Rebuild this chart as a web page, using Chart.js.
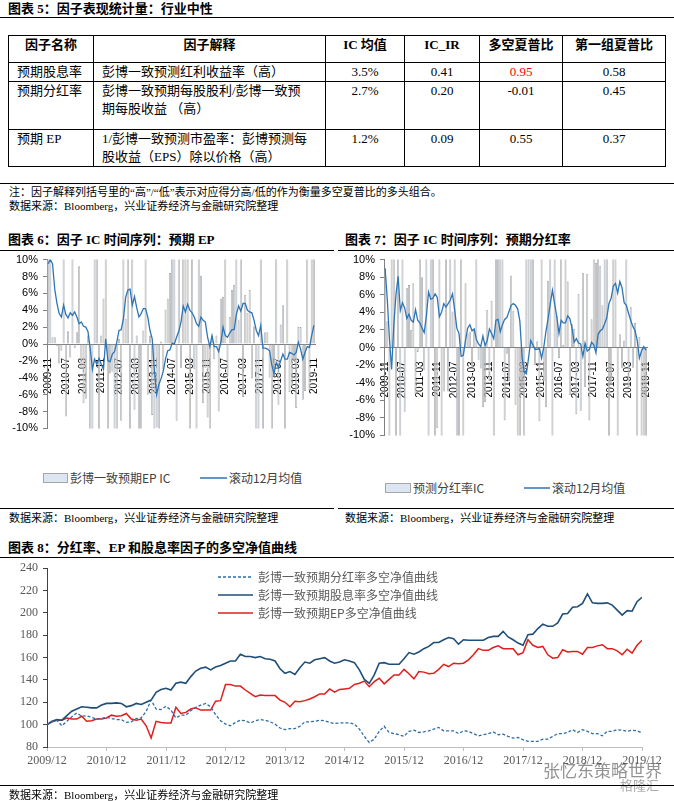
<!DOCTYPE html>
<html><head><meta charset="utf-8">
<script src="https://cdn.jsdelivr.net/npm/chart.js@4.4.1/dist/chart.umd.min.js"></script>
<style>
body{margin:0;background:#fff;}
#page{position:relative;width:674px;height:801px;overflow:hidden;font-family:"Liberation Serif","Noto Sans CJK SC",serif;color:#000;background:#fff;}
.abs{position:absolute;white-space:nowrap;}
.title{font-weight:bold;font-size:13px;line-height:16px;}
.hr{position:absolute;height:0;border-top:1.3px solid #000;}
.note{font-size:11px;line-height:14px;}
table{position:absolute;left:8px;top:35px;border-collapse:collapse;table-layout:fixed;font-size:13px;}
td,th{border:1px solid #000;padding:0 8px;vertical-align:top;line-height:18px;white-space:nowrap;overflow:visible;}
th{font-weight:bold;text-align:center;}
td.c{text-align:center;}
.leg{font-family:"Noto Sans CJK SC","Liberation Sans",sans-serif;font-size:12px;line-height:14px;color:#404040;}
.leg8{font-family:"Noto Sans CJK SC","Liberation Sans",sans-serif;font-size:12px;line-height:14px;color:#595959;}
canvas{position:absolute;}
</style></head>
<body><div id="page">

<div class="abs title" style="left:8px;top:1px;">图表 5：因子表现统计量：行业中性</div>
<div class="hr" style="left:0;top:17px;width:674px;"></div>

<table>
<colgroup><col style="width:85px"><col style="width:232px"><col style="width:79px"><col style="width:75px"><col style="width:83px"><col style="width:103px"></colgroup>
<tr style="height:27px"><th>因子名称</th><th>因子解释</th><th>IC 均值</th><th>IC_IR</th><th>多空夏普比</th><th>第一组夏普比</th></tr>
<tr style="height:18px"><td>预期股息率</td><td>彭博一致预测红利收益率（高）</td><td class="c">3.5%</td><td class="c">0.41</td><td class="c" style="color:#ff0000">0.95</td><td class="c">0.58</td></tr>
<tr style="height:48px"><td>预期分红率</td><td>彭博一致预期每股股利/彭博一致预<br>期每股收益 （高）</td><td class="c">2.7%</td><td class="c">0.20</td><td class="c">-0.01</td><td class="c">0.45</td></tr>
<tr style="height:36px"><td>预期 EP</td><td>1/彭博一致预测市盈率：彭博预测每<br>股收益（EPS）除以价格（高）</td><td class="c">1.2%</td><td class="c">0.09</td><td class="c">0.55</td><td class="c">0.37</td></tr>
</table>

<div class="hr" style="left:0;top:183px;width:674px;"></div>
<div class="abs note" style="left:9px;top:185px;">注：因子解释列括号里的“高”/“低”表示对应得分高/低的作为衡量多空夏普比的多头组合。</div>
<div class="abs note" style="left:9px;top:199px;">数据来源：Bloomberg，兴业证券经济与金融研究院整理</div>

<div class="abs title" style="left:8px;top:232px;">图表 6：因子 IC 时间序列：预期 EP</div>
<div class="hr" style="left:0;top:250px;width:334px;"></div>
<div class="abs title" style="left:345px;top:232px;">图表 7：因子 IC 时间序列：预期分红率</div>
<div class="hr" style="left:338px;top:250px;width:336px;"></div>

<canvas id="c6" width="335" height="192" style="left:0;top:248px;width:335px;height:192px;"></canvas>
<canvas id="c7" width="337" height="199" style="left:337px;top:248px;width:337px;height:199px;"></canvas>

<svg class="abs" style="left:0;top:460px;" width="674" height="40">
  <rect x="43.5" y="13.5" width="24" height="9" fill="#dce6f2" stroke="#a6a6a6" stroke-width="1"/>
  <line x1="200" y1="18" x2="227" y2="18" stroke="#2e75b6" stroke-width="1.5"/>
  <rect x="385.5" y="23.5" width="25" height="9" fill="#dce6f2" stroke="#a6a6a6" stroke-width="1"/>
  <line x1="524" y1="28" x2="550" y2="28" stroke="#2e75b6" stroke-width="1.5"/>
</svg>
<div class="abs leg" style="left:70px;top:471px;">彭博一致预期EP IC</div>
<div class="abs leg" style="left:229px;top:471px;">滚动12月均值</div>
<div class="abs leg" style="left:413px;top:481px;">预测分红率IC</div>
<div class="abs leg" style="left:552px;top:481px;">滚动12月均值</div>

<div class="hr" style="left:0;top:508px;width:334px;"></div>
<div class="hr" style="left:338px;top:508px;width:336px;"></div>
<div class="abs note" style="left:9px;top:511px;">数据来源：Bloomberg，兴业证券经济与金融研究院整理</div>
<div class="abs note" style="left:345px;top:511px;">数据来源：Bloomberg，兴业证券经济与金融研究院整理</div>

<div class="abs title" style="left:8px;top:540px;">图表 8：分红率、EP 和股息率因子的多空净值曲线</div>
<div class="hr" style="left:0;top:557px;width:674px;"></div>

<canvas id="c8" width="674" height="217" style="left:0;top:556px;width:674px;height:217px;"></canvas>

<svg class="abs" style="left:0;top:568px;" width="674" height="60">
  <line x1="218" y1="9" x2="253" y2="9" stroke="#2e6da4" stroke-width="1.3" stroke-dasharray="3,2"/>
  <line x1="218" y1="27" x2="253" y2="27" stroke="#1f4e79" stroke-width="1.6"/>
  <line x1="218" y1="45" x2="253" y2="45" stroke="#e01e1e" stroke-width="1.5"/>
</svg>
<div class="abs leg8" style="left:258px;top:570px;">彭博一致预期分红率多空净值曲线</div>
<div class="abs leg8" style="left:258px;top:588px;">彭博一致预期股息率多空净值曲线</div>
<div class="abs leg8" style="left:258px;top:606px;">彭博一致预期EP多空净值曲线</div>

<div class="abs" style="left:543px;top:760px;font-family:'Noto Sans CJK SC',sans-serif;font-size:17px;line-height:20px;color:rgba(110,110,110,0.75);">张忆东策略世界</div>
<div class="abs" style="left:620px;top:777px;font-family:'Noto Sans CJK SC',sans-serif;font-size:13px;line-height:16px;color:rgba(150,150,150,0.8);">格隆汇</div>

<div class="hr" style="left:0;top:785px;width:674px;"></div>
<div class="abs note" style="left:9px;top:788px;">数据来源：Bloomberg，兴业证券经济与金融研究院整理</div>

</div>
<script>
// ---------- data ----------
const icTickLabels = ['2009-11','2010-07','2011-03','2011-11','2012-07','2013-03','2013-11','2014-07','2015-03','2015-11','2016-07','2017-03','2017-11','2018-07','2019-03','2019-11'];

const epIC = [12,12,0.8,0.8,-0.2,-2.3,-0.8,12,-8.6,1.5,
  -1.6,12,-0.5,1.4,9.2,-2.7,-7.0,-6.5,1.0,-12,
  -12,12,12,-12,1.0,5.4,12,-12,-3.5,-3.3,
  -12,-12,0.6,-9.1,12,3.0,12,-12,12,-7.8,
  1.0,-12,-12,1.6,12,-6.0,1.0,-8.4,-12,-9.9,
  -12,0.3,-3.0,4.1,5.4,8.4,12,12,-9.1,12,
  -2.8,12,12,12,-12,12,-3.0,-12,12,8.1,
  -7.0,-2.8,-8.7,-12,1.0,-1.8,1.0,-8.0,5.4,5.6,
  12,-3.8,3.2,6.4,7.0,12,2.8,12,-6.3,5.8,
  3.7,6.4,-4.1,2.1,-12,-12,12,-12,1.4,1.4,
  -4.0,-12,-3.8,12,-7.2,2.3,4.6,-12,12,-5.7,
  -5.0,-2.0,-7.6,2.0,2.0,-6.6,-5.6,12,-5.5,12,
  12];
const epMA = [9.5,10,9.5,6.5,4.8,3.6,3.2,4.6,3.5,3.1,
  3.7,3.4,3.8,3.2,2.4,2.6,2.1,2.0,1.5,-0.5,
  -3.0,-1.8,-2.4,-1.7,-2.4,-3.0,0.6,-2.0,-2.1,-1.2,
  -0.9,0.2,1.6,1.7,3.0,5.5,6.4,6.5,4.6,5.6,
  4.3,3.2,3.6,4.2,4.2,3.2,1.6,0.6,-3.2,-6.0,
  -4.8,-4.1,-3.2,-1.8,-0.8,-0.7,0.1,0.0,0.8,1.5,
  2.6,4.5,3.8,4.7,4.0,3.7,3.2,2.4,2.1,3.2,
  2.8,2.6,0.8,-0.3,1.0,-0.3,-0.3,-0.9,0.2,2.0,
  1.0,0.8,1.3,1.7,1.7,3.5,4.5,3.9,4.8,4.8,
  4.0,3.8,3.7,2.8,1.6,1.0,2.2,-0.5,-0.5,-0.6,
  -0.8,-2.5,-3.5,-2.2,-2.8,-2.0,-1.2,-1.8,-1.8,-1.0,
  -1.1,-1.3,-1.0,0.2,-0.6,-1.8,-1.0,-0.3,-0.4,1.0,
  2.2];

const divIC = [9.0,3.0,-12,12,12,-12,12,-12,12,-7.3,
  6.8,7.1,2.0,7.3,-5.3,-0.5,12,8.0,-2.6,12,
  -12,12,12,-12,-9.2,12,-12,-5.0,12,-5.0,
  12,4.1,12,-12,-12,12,-12,7.3,1.6,1.8,
  -2.2,2.0,12,-1.4,-2.4,-6.8,-6.2,4.3,-3.8,5.3,
  -12,12,12,12,12,-8.3,-0.7,-3.8,8.2,4.2,
  -6.5,-12,-12,-4.5,-12,12,12,12,12,-2.0,
  0.7,-8.4,12,-3.8,-6.8,7.6,12,-12,12,3.6,
  -1.2,12,0.3,12,7.5,-5.4,2.7,2.1,-7.6,6.1,
  -7.2,8.5,-4.5,8.4,-8.3,3.2,12,9.6,12,9.3,
  4.8,12,12,-12,-4.2,12,12,-12,1.5,-2.3,
  0.8,12,-4.5,4.6,-2.3,2.8,-12,1.2,-12,-12,
  -12];
const divMA = [9.0,5.5,1.0,-2.5,2.5,6.0,8.1,4.2,5.1,4.5,
  3.3,3.8,3.1,2.9,4.3,3.1,2.8,2.2,1.7,3.6,
  6.3,5.5,5.6,6.1,5.7,3.5,4.0,5.0,4.6,5.0,
  5.4,6.1,4.3,2.2,1.6,-1.0,-0.9,0.8,2.2,2.6,
  1.9,2.1,0.9,0.4,0.1,1.3,0.2,0.8,2.1,1.6,
  1.0,3.1,3.2,1.8,2.6,3.2,3.4,4.1,4.8,5.0,
  4.8,4.4,3.0,-1.0,-2.8,-3.0,-1.2,0.8,0.3,-0.2,
  -0.2,-0.1,-1.2,0.0,1.8,3.3,5.0,6.5,5.0,3.5,
  1.6,3.1,2.8,2.8,3.6,3.3,2.2,0.6,1.0,0.5,
  0.4,-1.0,0.5,-0.4,-0.2,0.6,0.3,-0.6,1.5,1.9,
  2.1,2.7,3.4,5.0,5.6,7.0,7.3,6.2,7.5,6.8,
  5.1,4.8,3.9,3.1,2.4,1.9,0.8,-1.2,-0.4,0.1,
  -0.3];

const netTickLabels = ['2009/12','2010/12','2011/12','2012/12','2013/12','2014/12','2015/12','2016/12','2017/12','2018/12','2019/12'];

const divNet = [100,102.5,104,99,103,107,110.5,107.5,108,106.5,105,105.5,106.5,
  105.5,104.5,104.5,102,102.5,105.5,106,112,122,114,113.5,116.5,
  113,106,108.5,108.5,112.5,115.5,117.5,119,116,109,103.5,100.5,
  99,102,104,103.5,101.5,103.5,104.5,104,102.5,100.5,97,95.5,
  96.5,96.5,98.5,102.5,102.5,103,104,103.5,102,101,101.5,101.5,
  101.5,100.5,96,89.5,84,87,94,98.5,93,92,91,89.5,
  94,95,93,93.5,94.5,96,97.5,94.5,94.5,94.5,92,94.5,
  94,92,90,91,92,93.5,91,91.5,89.5,88,88.5,86.5,
  85,85,85,87,87,89.5,92,92,93,95.5,93,95.5,
  94,92,92,90,94,94,95.5,95,94,95,94.5,92.5];
const yieldNet = [100,103,104.5,104,108,112,114,116,115.5,115,115,117.5,119,
  119,119.5,119,116,117,119,118,120,122,129,131.5,132.5,
  131,137,138,137,143,148,150.5,151.5,149,151.5,153,155,
  157,157,163,161,161,160,161,159,158.5,157,150,146,
  147.5,145,151,156,155,158,159,160,157,155,156,158,
  157,155.5,149,140.5,137,144.5,155,155.5,154,154,154,159,
  164.5,163,165,168,170,173.5,173.5,176,178,177,172,176,
  175.5,175.5,175.5,175.5,178,179,179,183.5,178.5,176,173,171,
  180.5,181,186,190,188,188,191,199,199.5,205,205.5,208.5,
  217,209,208.5,208.5,209,207,202.5,198,202,201.5,210,214];
const epNet = [100,102.5,104,104,106,105,105,107.5,103,103.5,105,105,106,
  108.5,107.5,108,110,105,104,105,99,88,103,102,101.5,
  101.5,115.5,110,111,114,115,113,113,113,121,121.5,136,
  136,134.5,134.5,131,128,125,126.5,126,126,126,122,120,
  116,121,120.5,121.5,123,125,127.5,127.5,132,129,131.5,132,
  132.5,136,137,139,134,138.5,141.5,136.5,140.5,144.5,144.5,149.5,
  145.5,141,147.5,147,145.5,146,149.5,154,152,155,154.5,155,
  158,162.5,168,166.5,166.5,169,170.5,168,168,168,162.5,164.5,
  176,171,169,170,162.5,159.5,160,167,165,165.5,165.5,163,
  169,169,170.5,171.5,168,168,166,162.5,167.5,164,171,175.5];

// ---------- helpers ----------
const icMonths = [];
for (let k = 0; k < epIC.length; k++) {
  const mm = 10 + k;
  const y = 2009 + Math.floor(mm / 12);
  const m = (mm % 12) + 1;
  icMonths.push(y + '-' + String(m).padStart(2, '0'));
}
const toXY = arr => arr.map((v, i) => ({x: i, y: v}));

Chart.defaults.animation = false;
Chart.defaults.events = [];

function icChart(id, bars, line, barLabel, padRight) {
  new Chart(document.getElementById(id), {
    type: 'bar',
    data: {
      labels: icMonths,
      datasets: [
        {type: 'line', label: '滚动12月均值', data: line, borderColor: '#2e75b6', borderWidth: 1.3,
         pointRadius: 0, tension: 0, order: 0, clip: 0},
        {type: 'bar', label: barLabel, data: bars, backgroundColor: '#dce6f2', borderColor: '#a6a6a6',
         borderWidth: 0.8, categoryPercentage: 1, barPercentage: 0.9, order: 1, clip: 0}
      ]
    },
    options: {
      responsive: false,
      layout: {padding: {left: 4, right: padRight, top: 7, bottom: 7}},
      plugins: {legend: {display: false}, tooltip: {enabled: false}},
      scales: {
        x: {
          position: {y: 0},
          grid: {display: false},
          border: {display: true, color: '#808080', width: 1},
          ticks: {
            autoSkip: false, maxRotation: 90, minRotation: 90, padding: 6, color: '#000',
            font: {family: 'Liberation Sans', size: 10},
            callback: function (val) {
              const l = this.getLabelForValue(val);
              return icTickLabels.includes(l) ? l : '';
            }
          },
          afterFit: s => { s.height = 0; }
        },
        y: {
          min: -10, max: 10,
          ticks: {stepSize: 2, callback: v => v + '%', color: '#000', font: {family: 'Liberation Sans', size: 11}, padding: 5},
          grid: {drawOnChartArea: false, drawTicks: true, tickLength: 4, color: '#808080'},
          border: {color: '#808080'},
          afterFit: s => { s.width = 43; }
        }
      }
    }
  });
}

icChart('c6', epIC, epMA, '彭博一致预期EP IC', 20);
icChart('c7', divIC, divMA, '预测分红率IC', 27);

new Chart(document.getElementById('c8'), {
  type: 'line',
  data: {
    datasets: [
      {label: '彭博一致预期分红率多空净值曲线', data: toXY(divNet), borderColor: '#2e6da4', borderDash: [3, 2], borderWidth: 1.3, pointRadius: 0, tension: 0},
      {label: '彭博一致预期股息率多空净值曲线', data: toXY(yieldNet), borderColor: '#1f4e79', borderWidth: 1.6, pointRadius: 0, tension: 0},
      {label: '彭博一致预期EP多空净值曲线', data: toXY(epNet), borderColor: '#e01e1e', borderWidth: 1.5, pointRadius: 0, tension: 0}
    ]
  },
  options: {
    responsive: false,
    layout: {padding: {left: 4, right: 32, top: 8, bottom: 0}},
    plugins: {legend: {display: false}, tooltip: {enabled: false}},
    scales: {
      x: {
        type: 'linear', min: 0, max: 120,
        ticks: {stepSize: 12, autoSkip: false, maxRotation: 0, padding: 3, color: '#595959',
                font: {family: 'Liberation Serif', size: 12},
                callback: v => netTickLabels[Math.round(v / 12)]},
        grid: {drawOnChartArea: false, tickLength: 4, color: '#bfbfbf'},
        border: {color: '#bfbfbf'},
        afterFit: s => { s.height = 26; }
      },
      y: {
        min: 80, max: 240,
        ticks: {stepSize: 20, color: '#595959', font: {family: 'Liberation Serif', size: 12}, padding: 5},
        grid: {drawOnChartArea: false, tickLength: 4, color: '#404040'},
        border: {color: '#404040'},
        afterFit: s => { s.width = 43; }
      }
    }
  }
});
</script>
</body></html>
